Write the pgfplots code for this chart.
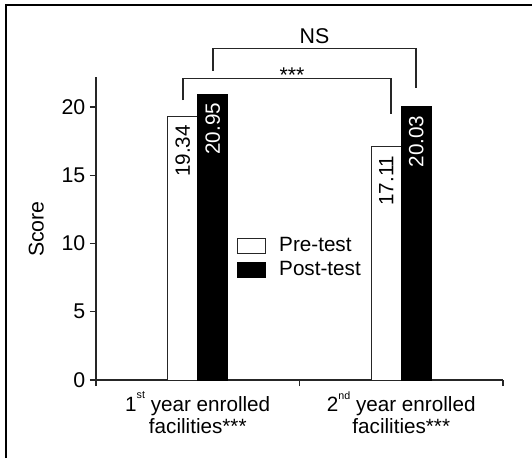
\documentclass[border=0pt]{standalone}
\usepackage{fontspec}
\setmainfont{Liberation Sans}
\usepackage{pgfplots}
\pgfplotsset{compat=1.18}
\newcommand{\smallsup}[1]{\raisebox{0.62em}{\fontsize{8}{8}\selectfont #1}}
\begin{document}
\begin{tikzpicture}
\useasboundingbox (0,0) rectangle (399pt,343.5pt);
\fill[white] (0,0) rectangle (399pt,343.5pt);
\draw[line width=1.1pt] (4.5pt,0) -- (4.5pt,339.75pt) -- (399pt,339.75pt);
\begin{axis}[
  at={(72pt,58.5pt)}, anchor=south west,
  scale only axis, width=305.25pt, height=227.25pt,
  xmin=-0.5, xmax=1.5, ymin=0, ymax=22.2,
  clip=false,
  axis x line*=bottom, axis y line*=left,
  axis line style={line width=0.9pt, color=black!85, -},
  ytick={0,5,10,15,20},
  xtick={-0.5,0.5,1.5}, xticklabels={},
  extra x ticks={0,1},
  extra x tick labels={{1\smallsup{st} year enrolled\\facilities***},{2\smallsup{nd} year enrolled\\facilities***}},
  extra x tick style={major tick length=0pt, tick label style={align=center, yshift=-5pt, font=\fontsize{15.5}{16.5}\selectfont}},
  tick align=outside, major tick length=4.5pt,
  tick style={line width=0.9pt, color=black!85},
  /pgf/number format/assume math mode=true,
  tick label style={font=\fontsize{16}{17}\selectfont},
  ylabel={Score},
  ylabel style={font=\fontsize{16}{19}\selectfont, at={(axis description cs:-0.147,0.498)}, anchor=center},
  ybar=0pt, bar width=22.5pt,
  legend style={draw=none, fill=none, at={(0.346,0.48)}, anchor=north west,
    font=\fontsize{15.5}{17}\selectfont, inner sep=0pt, row sep=2pt,
    nodes={inner sep=2pt}},
  legend cell align=left,
]
\addplot[draw=black!85, fill=white, line width=0.6pt,
  legend image code/.code={\draw[draw=black!85,fill=white,line width=0.6pt] (0pt,-5.5pt) rectangle (21pt,5.5pt);},
  nodes near coords,
  nodes near coords style={rotate=90, anchor=east, inner xsep=6.5pt, font=\fontsize{15.5}{17}\selectfont, text=black}]
  coordinates {(0,19.34) (1,17.11)};
\addplot[draw=black, fill=black,
  legend image code/.code={\draw[draw=black,fill=black] (0pt,-5.5pt) rectangle (21pt,5.5pt);},
  nodes near coords,
  nodes near coords style={rotate=90, anchor=east, inner xsep=6.5pt, font=\fontsize{15.5}{17}\selectfont, text=white}]
  coordinates {(0,20.95) (1,20.03)};
\legend{\hspace*{8pt}Pre-test, \hspace*{8pt}Post-test}
\draw[line width=0.8pt, black!85] (axis cs:-0.0725,20.51) -- (axis cs:-0.0725,22.12) -- (axis cs:0.9496,22.12) -- (axis cs:0.9496,19.49);
\node[font=\fontsize{16}{18}\selectfont, anchor=base, inner sep=0pt] at (axis cs:0.463,21.83) {***};
\draw[line width=0.8pt, black!85] (axis cs:0.075,22.64) -- (axis cs:0.075,24.32) -- (axis cs:1.0725,24.32) -- (axis cs:1.0725,21.39);
\node[font=\fontsize{16}{18}\selectfont, anchor=base, inner sep=0pt] at (axis cs:0.5737,24.62) {NS};
\end{axis}
\end{tikzpicture}
\end{document}
